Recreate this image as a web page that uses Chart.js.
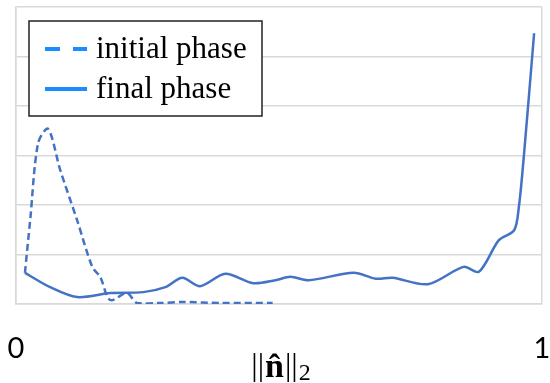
<!DOCTYPE html>
<html><head><meta charset="utf-8">
<script src="https://cdn.jsdelivr.net/npm/chart.js@4/dist/chart.umd.min.js"></script>
<style>html,body{margin:0;padding:0;background:#fff}#wrap{position:relative;width:550px;height:383px}</style>
</head><body><div id="wrap"><canvas id="c" width="550" height="383"></canvas></div>
<script>
// ---- data ----
const seriesNames = ['initial phase', 'final phase'];
const initialX = [0.017, 0.027, 0.042, 0.061, 0.084, 0.116, 0.145, 0.160, 0.179, 0.211, 0.230, 0.274, 0.318, 0.389, 0.488];
const initialY = [0.63, 1.70, 3.25, 3.54, 2.71, 1.70, 0.75, 0.55, 0.08, 0.22, 0.02, 0.02, 0.04, 0.02, 0.02];
const finalX = [0.017, 0.065, 0.116, 0.179, 0.242, 0.284, 0.316, 0.350, 0.398, 0.451, 0.493, 0.522, 0.556, 0.642, 0.684, 0.716, 0.783, 0.851, 0.880, 0.918, 0.947, 0.956, 0.966, 0.985];
const finalY = [0.63, 0.34, 0.14, 0.22, 0.24, 0.34, 0.53, 0.36, 0.61, 0.42, 0.48, 0.55, 0.48, 0.63, 0.51, 0.53, 0.40, 0.75, 0.65, 1.29, 1.49, 1.96, 3.05, 5.47];
const xTickValues = [0, 1];
const xTickLabels = ['0', '1'];
const yRange = [0, 6];
const axisTitleParts = ['||', 'n\u0302', '||', '2'];

const lineColor = '#4472C4';
const legendColor = '#1A8CFF';
const gridColor = '#D9D9D9';

const toPoints = (xs, ys) => xs.map((x, i) => ({x: x, y: ys[i]}));

const legendPlugin = {
  id: 'boxLegend',
  afterDraw(chart) {
    const ctx = chart.ctx;
    ctx.save();
    ctx.fillStyle = '#fff';
    ctx.fillRect(29, 21, 233, 95);
    ctx.strokeStyle = '#222';
    ctx.lineWidth = 1.5;
    ctx.strokeRect(29, 21, 233, 95);
    const rows = [49, 89];
    chart.data.datasets.forEach((ds, i) => {
      const y = rows[i];
      ctx.beginPath();
      ctx.strokeStyle = legendColor;
      ctx.lineWidth = 4;
      ctx.setLineDash(i === 0 ? [15, 13] : []);
      ctx.moveTo(45, y);
      ctx.lineTo(87, y);
      ctx.stroke();
      ctx.setLineDash([]);
      ctx.fillStyle = '#000';
      ctx.font = '31px "Liberation Serif"';
      ctx.textBaseline = 'middle';
      ctx.textAlign = 'left';
      ctx.fillText(ds.label, 96, y + 1);
    });
    // axis title  ||n̂||_2
    const area = chart.chartArea;
    const cx = (area.left + area.right) / 2 + 2;
    ctx.textBaseline = 'alphabetic';
    const fonts = ['32px "Liberation Serif"', 'bold 34px "Liberation Serif"', '32px "Liberation Serif"', '24px "Liberation Serif"'];
    const baselines = [375, 377, 375, 380];
    const gaps = [1, 1, 1, 0];
    const widths = axisTitleParts.map((t, i) => { ctx.font = fonts[i]; return ctx.measureText(t).width; });
    const total = widths.reduce((a, b) => a + b, 0) + gaps.reduce((a, b) => a + b, 0);
    let x = cx - total / 2;
    axisTitleParts.forEach((t, i) => {
      ctx.font = fonts[i];
      ctx.fillText(t, x, baselines[i]);
      x += widths[i] + gaps[i];
    });
    ctx.restore();
  }
};

new Chart(document.getElementById('c'), {
  type: 'line',
  data: {
    datasets: [
      {label: seriesNames[0], data: toPoints(initialX, initialY), borderColor: lineColor, borderWidth: 2.5, borderDash: [7, 4], pointRadius: 0, tension: 0.3, fill: false},
      {label: seriesNames[1], data: toPoints(finalX, finalY), borderColor: lineColor, borderWidth: 2.5, pointRadius: 0, tension: 0.3, fill: false}
    ]
  },
  options: {
    responsive: false,
    animation: false,
    layout: {padding: {left: 16, right: 8, top: 7, bottom: 0}},
    plugins: {legend: {display: false}, tooltip: {enabled: false}},
    scales: {
      x: {
        type: 'linear', min: 0, max: 1,
        afterBuildTicks: (axis) => { axis.ticks = xTickValues.map(v => ({value: v})); },
        afterFit: (s) => { s.height = 79; s.paddingLeft = 0; s.paddingRight = 0; },
        ticks: {
          callback: (v) => xTickLabels[xTickValues.indexOf(v)],
          font: {family: 'Lato', size: 29}, color: '#000', padding: 27,
          maxRotation: 0, autoSkip: false
        },
        grid: {display: true, color: gridColor, lineWidth: 1.5, drawTicks: false},
        border: {display: true, color: gridColor, width: 1.5}
      },
      y: {
        min: yRange[0], max: yRange[1],
        afterFit: (s) => { s.width = 0; s.paddingTop = 0; s.paddingBottom = 0; },
        ticks: {display: false, stepSize: 1},
        grid: {color: gridColor, lineWidth: 1.5, drawTicks: false},
        border: {display: true, color: gridColor, width: 1.5}
      }
    }
  },
  plugins: [legendPlugin]
});
</script></body></html>
